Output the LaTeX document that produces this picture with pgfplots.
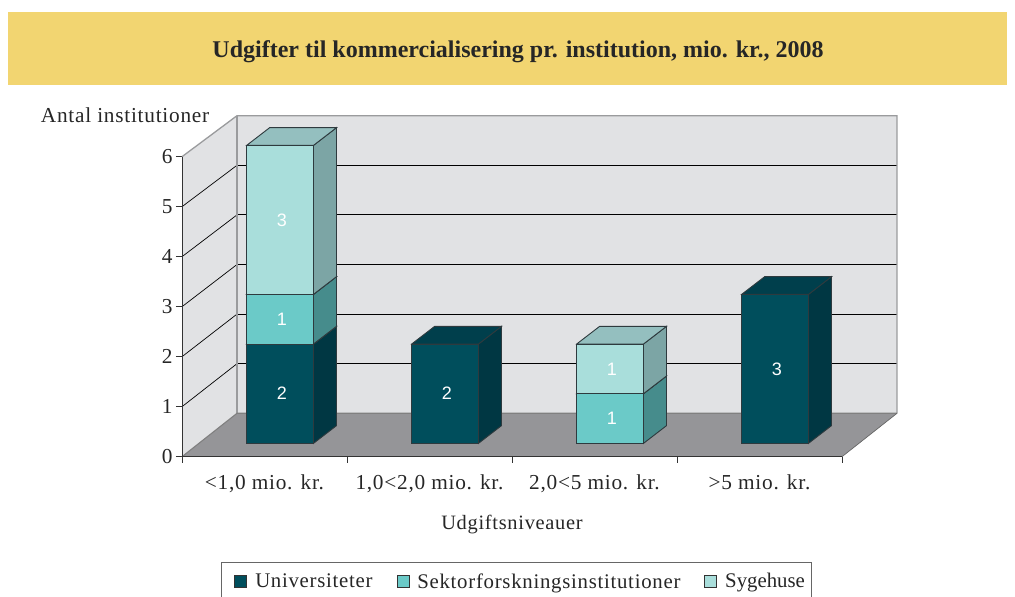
\documentclass[border=0pt]{standalone}
\usepackage{fontspec}
\setmainfont{Liberation Serif}
\newfontfamily\spaced[LetterSpace=3.5]{Liberation Serif}
\newfontfamily\tight{Liberation Serif}
\newfontfamily\lab{Liberation Sans}
\usepackage{pgfplots}
\pgfplotsset{compat=1.18}
\definecolor{band}{HTML}{F2D571}
\definecolor{wall}{HTML}{E1E2E4}
\definecolor{wedge}{HTML}{9A9B9D}
\definecolor{floorc}{HTML}{959598}
\definecolor{grid}{HTML}{48484A}
\definecolor{edge}{HTML}{2E3A3E}
\definecolor{dF}{HTML}{004E5C}
\definecolor{dT}{HTML}{003F4C}
\definecolor{dS}{HTML}{003743}
\definecolor{mF}{HTML}{6BCAC8}
\definecolor{mT}{HTML}{58A6A6}
\definecolor{mS}{HTML}{468C8C}
\definecolor{lF}{HTML}{A9DEDB}
\definecolor{lT}{HTML}{94BFBF}
\definecolor{lS}{HTML}{7CA5A5}
% #1 category index, #2 bottom, #3 top, #4 colour prefix, #5 value
\newcommand\threeDbar[5]{%
  \addplot[fill=#4S,draw=edge,line width=0.9pt,forget plot] coordinates {
    ({#1+0.797},{0.267+0.9933*#2}) ({#1+0.9364},{0.621+0.9933*#2})
    ({#1+0.9364},{0.621+0.9933*#3}) ({#1+0.797},{0.267+0.9933*#3})} -- cycle;
  \addplot[fill=#4T,draw=edge,line width=0.9pt,forget plot] coordinates {
    ({#1+0.392},{0.267+0.9933*#3}) ({#1+0.797},{0.267+0.9933*#3})
    ({#1+0.9364},{0.621+0.9933*#3}) ({#1+0.5314},{0.621+0.9933*#3})} -- cycle;
  \addplot[fill=#4F,draw=edge,line width=0.9pt,forget plot] coordinates {
    ({#1+0.392},{0.267+0.9933*#2}) ({#1+0.797},{0.267+0.9933*#2})
    ({#1+0.797},{0.267+0.9933*#3}) ({#1+0.392},{0.267+0.9933*#3})} -- cycle;
  \addplot[draw=none,forget plot,point meta=explicit,nodes near coords={\pgfmathprintnumber[assume math mode=true]{\pgfplotspointmeta}},
    every node near coord/.append style={anchor=center,font=\lab\fontsize{18}{20}\selectfont,text=white,inner sep=0pt}]
    coordinates {({#1+0.606},{0.267+0.9933*(#2+#3)/2}) [#5]};
}
\begin{document}
\begin{tikzpicture}[x=1pt,y=1pt]
\path[use as bounding box] (0,0) rectangle (1015,597);
\clip (0,0) rectangle (1015,597);
\fill[band] (8,512) rectangle (1007,585);
\node[font=\bfseries\fontsize{24}{28}\selectfont,text=black!85] at (518,545) {Udgifter til kommercialisering pr. institution, mio. kr., 2008};
\begin{axis}[
  at={(182pt,140.3pt)},anchor=origin,
  scale only axis,width=715pt,height=341pt,
  xmin=0,xmax=4.3333,ymin=0,ymax=6.82,
  clip=false,
  axis x line*=bottom,axis y line*=left,
  axis line style={draw=none},
  tick align=outside,
  major tick length=6pt,minor tick length=6pt,
  ytick={0,1,2,3,4,5,6},
  xtick={0.5,1.5,2.5,3.5},
  xticklabels={{<1,0 mio. kr.},{1,0<2,0 mio. kr.},{2,0<5 mio. kr.},{>5 mio. kr.}},
  minor xtick={0,1,2,3,4},
  major x tick style={draw=none},
  minor x tick style={draw=black!80,line width=0.9pt},
  major y tick style={draw=black!80,line width=0.9pt},
  /pgf/number format/assume math mode=true,
  tick label style={font=\spaced\fontsize{21.3}{25}\selectfont,text=black!85},
  xticklabel style={yshift=-8pt},
  xlabel={Udgiftsniveauer},
  xlabel style={at={(axis cs:2.0,-1.36)},anchor=center,font=\spaced\fontsize{20.4}{24}\selectfont,text=black!85},
  ylabel={Antal institutioner},
  ylabel style={rotate=-90,at={(axis cs:-0.345,6.82)},anchor=center,font=\spaced\fontsize{21.3}{25}\selectfont,text=black!85},
  legend columns=-1,
  legend style={at={(axis cs:0.2364,-2.106)},anchor=north west,draw=black!60,line width=0.9pt,
    font=\spaced\fontsize{20.8}{25}\selectfont,text=black!85,inner xsep=5pt,inner ysep=9pt,
    /tikz/every even column/.append style={column sep=14pt}},
  legend image code/.code={\draw[#1] (0pt,-6pt) rectangle (12pt,6pt);\path (-8pt,0pt) (18pt,0pt);},
]
% legend
\addlegendimage{fill=dF,draw=black!80,line width=0.8pt}
\addlegendentry{Universiteter}
\addlegendimage{fill=mF,draw=black!80,line width=0.8pt}
\addlegendentry{Sektorforskningsinstitutioner}
\addlegendimage{fill=lF,draw=black!80,line width=0.8pt}
\addlegendentry{\tight Sygehuse}
% walls and floor
\addplot[fill=wall,draw=none,forget plot] coordinates {(0.3333,0.868) (4.3333,0.868) (4.3333,6.82) (0.3333,6.82)} -- cycle;
\addplot[fill=wall,draw=none,forget plot] coordinates {(0,0) (0.3333,0.868) (0.3333,6.82) (0,6)} -- cycle;
\addplot[fill=floorc,draw=none,forget plot] coordinates {(0,0) (4,0) (4.3333,0.868) (0.3333,0.868)} -- cycle;
% gridlines on the back wall
\addplot[grid,line width=0.9pt,forget plot] coordinates {(0.3333,1.86) (4.3333,1.86)};
\addplot[grid,line width=0.9pt,forget plot] coordinates {(0.3333,2.852) (4.3333,2.852)};
\addplot[grid,line width=0.9pt,forget plot] coordinates {(0.3333,3.844) (4.3333,3.844)};
\addplot[grid,line width=0.9pt,forget plot] coordinates {(0.3333,4.836) (4.3333,4.836)};
\addplot[grid,line width=0.9pt,forget plot] coordinates {(0.3333,5.828) (4.3333,5.828)};
% gridlines on the side wall
\addplot[grid,line width=0.7pt,forget plot] coordinates {(0,1) (0.3333,1.86)};
\addplot[grid,line width=0.7pt,forget plot] coordinates {(0,2) (0.3333,2.852)};
\addplot[grid,line width=0.7pt,forget plot] coordinates {(0,3) (0.3333,3.844)};
\addplot[grid,line width=0.7pt,forget plot] coordinates {(0,4) (0.3333,4.836)};
\addplot[grid,line width=0.7pt,forget plot] coordinates {(0,5) (0.3333,5.828)};
% wall edges
\addplot[wedge,line width=1.3pt,forget plot] coordinates {(0,6) (0.3333,6.82) (4.3333,6.82) (4.3333,0.868)};
\addplot[wedge,line width=1.3pt,forget plot] coordinates {(0.3333,6.82) (0.3333,0.868)};
\addplot[black!50,line width=1.1pt,forget plot] coordinates {(0,0) (0.3333,0.868) (4.3333,0.868)};
\addplot[black!60,line width=0.7pt,forget plot] coordinates {(4,0) (4.3333,0.868)};
% axis lines
\addplot[black!80,line width=1pt,forget plot] coordinates {(0,6) (0,0) (4,0)};
% bars
\threeDbar{0}{0}{2}{d}{2}
\threeDbar{0}{2}{3}{m}{1}
\threeDbar{0}{3}{6}{l}{3}
\threeDbar{1}{0}{2}{d}{2}
\threeDbar{2}{0}{1}{m}{1}
\threeDbar{2}{1}{2}{l}{1}
\threeDbar{3}{0}{3}{d}{3}
\end{axis}
\end{tikzpicture}
\end{document}
